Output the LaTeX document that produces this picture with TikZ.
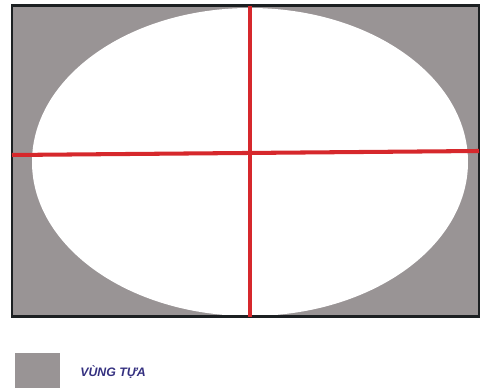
\documentclass[tikz,border=0pt]{standalone}
\usepackage{fontspec}
\newfontfamily\legendfont{Liberation Sans}
\usepackage{xcolor}
\definecolor{supportgray}{RGB}{153,148,149}
\definecolor{framedark}{RGB}{28,32,34}
\definecolor{axisred}{RGB}{214,40,44}
\definecolor{legendblue}{RGB}{52,48,128}
\tikzset{
  axisline/.style={draw=axisred, line width=2.3pt},
  swatch/.style={fill=supportgray, draw=none, minimum width=0.9cm, minimum height=0.7cm, inner sep=0pt},
  legendtext/.style={font=\legendfont\fontsize{7}{8}\selectfont\bfseries\itshape, text=legendblue, anchor=west, inner sep=0pt}
}

\begin{document}
\begin{tikzpicture}
  % ----- fixed frame matching the reference proportions -----
  \useasboundingbox (0, 0) rectangle (9.66, 7.8);

  % ----- support region: grey plate with white ellipse cut out -----
  \fill[supportgray] (0.24, 1.46) rectangle (9.58, 7.68);
  \fill[white] (5.0, 4.56) ellipse (4.36 and 3.08);
  \draw[framedark, line width=1.7pt] (0.24, 1.46) rectangle (9.58, 7.68);

  % ----- axes -----
  \coordinate (top) at (5.0, 7.68);
  \coordinate (bottom) at (5.0, 1.46);
  \coordinate (left) at (0.24, 4.70);
  \coordinate (right) at (9.58, 4.78);
  \draw[axisline] (left) -- (right);
  \draw[axisline] (top) -- (bottom);

  % ----- legend -----
  \node[swatch] (legendbox) at (0.75, 0.39) {};
  \node[legendtext] (legendlabel) at (1.6, 0.36) {VÙNG TỰA};
\end{tikzpicture}
\end{document}
